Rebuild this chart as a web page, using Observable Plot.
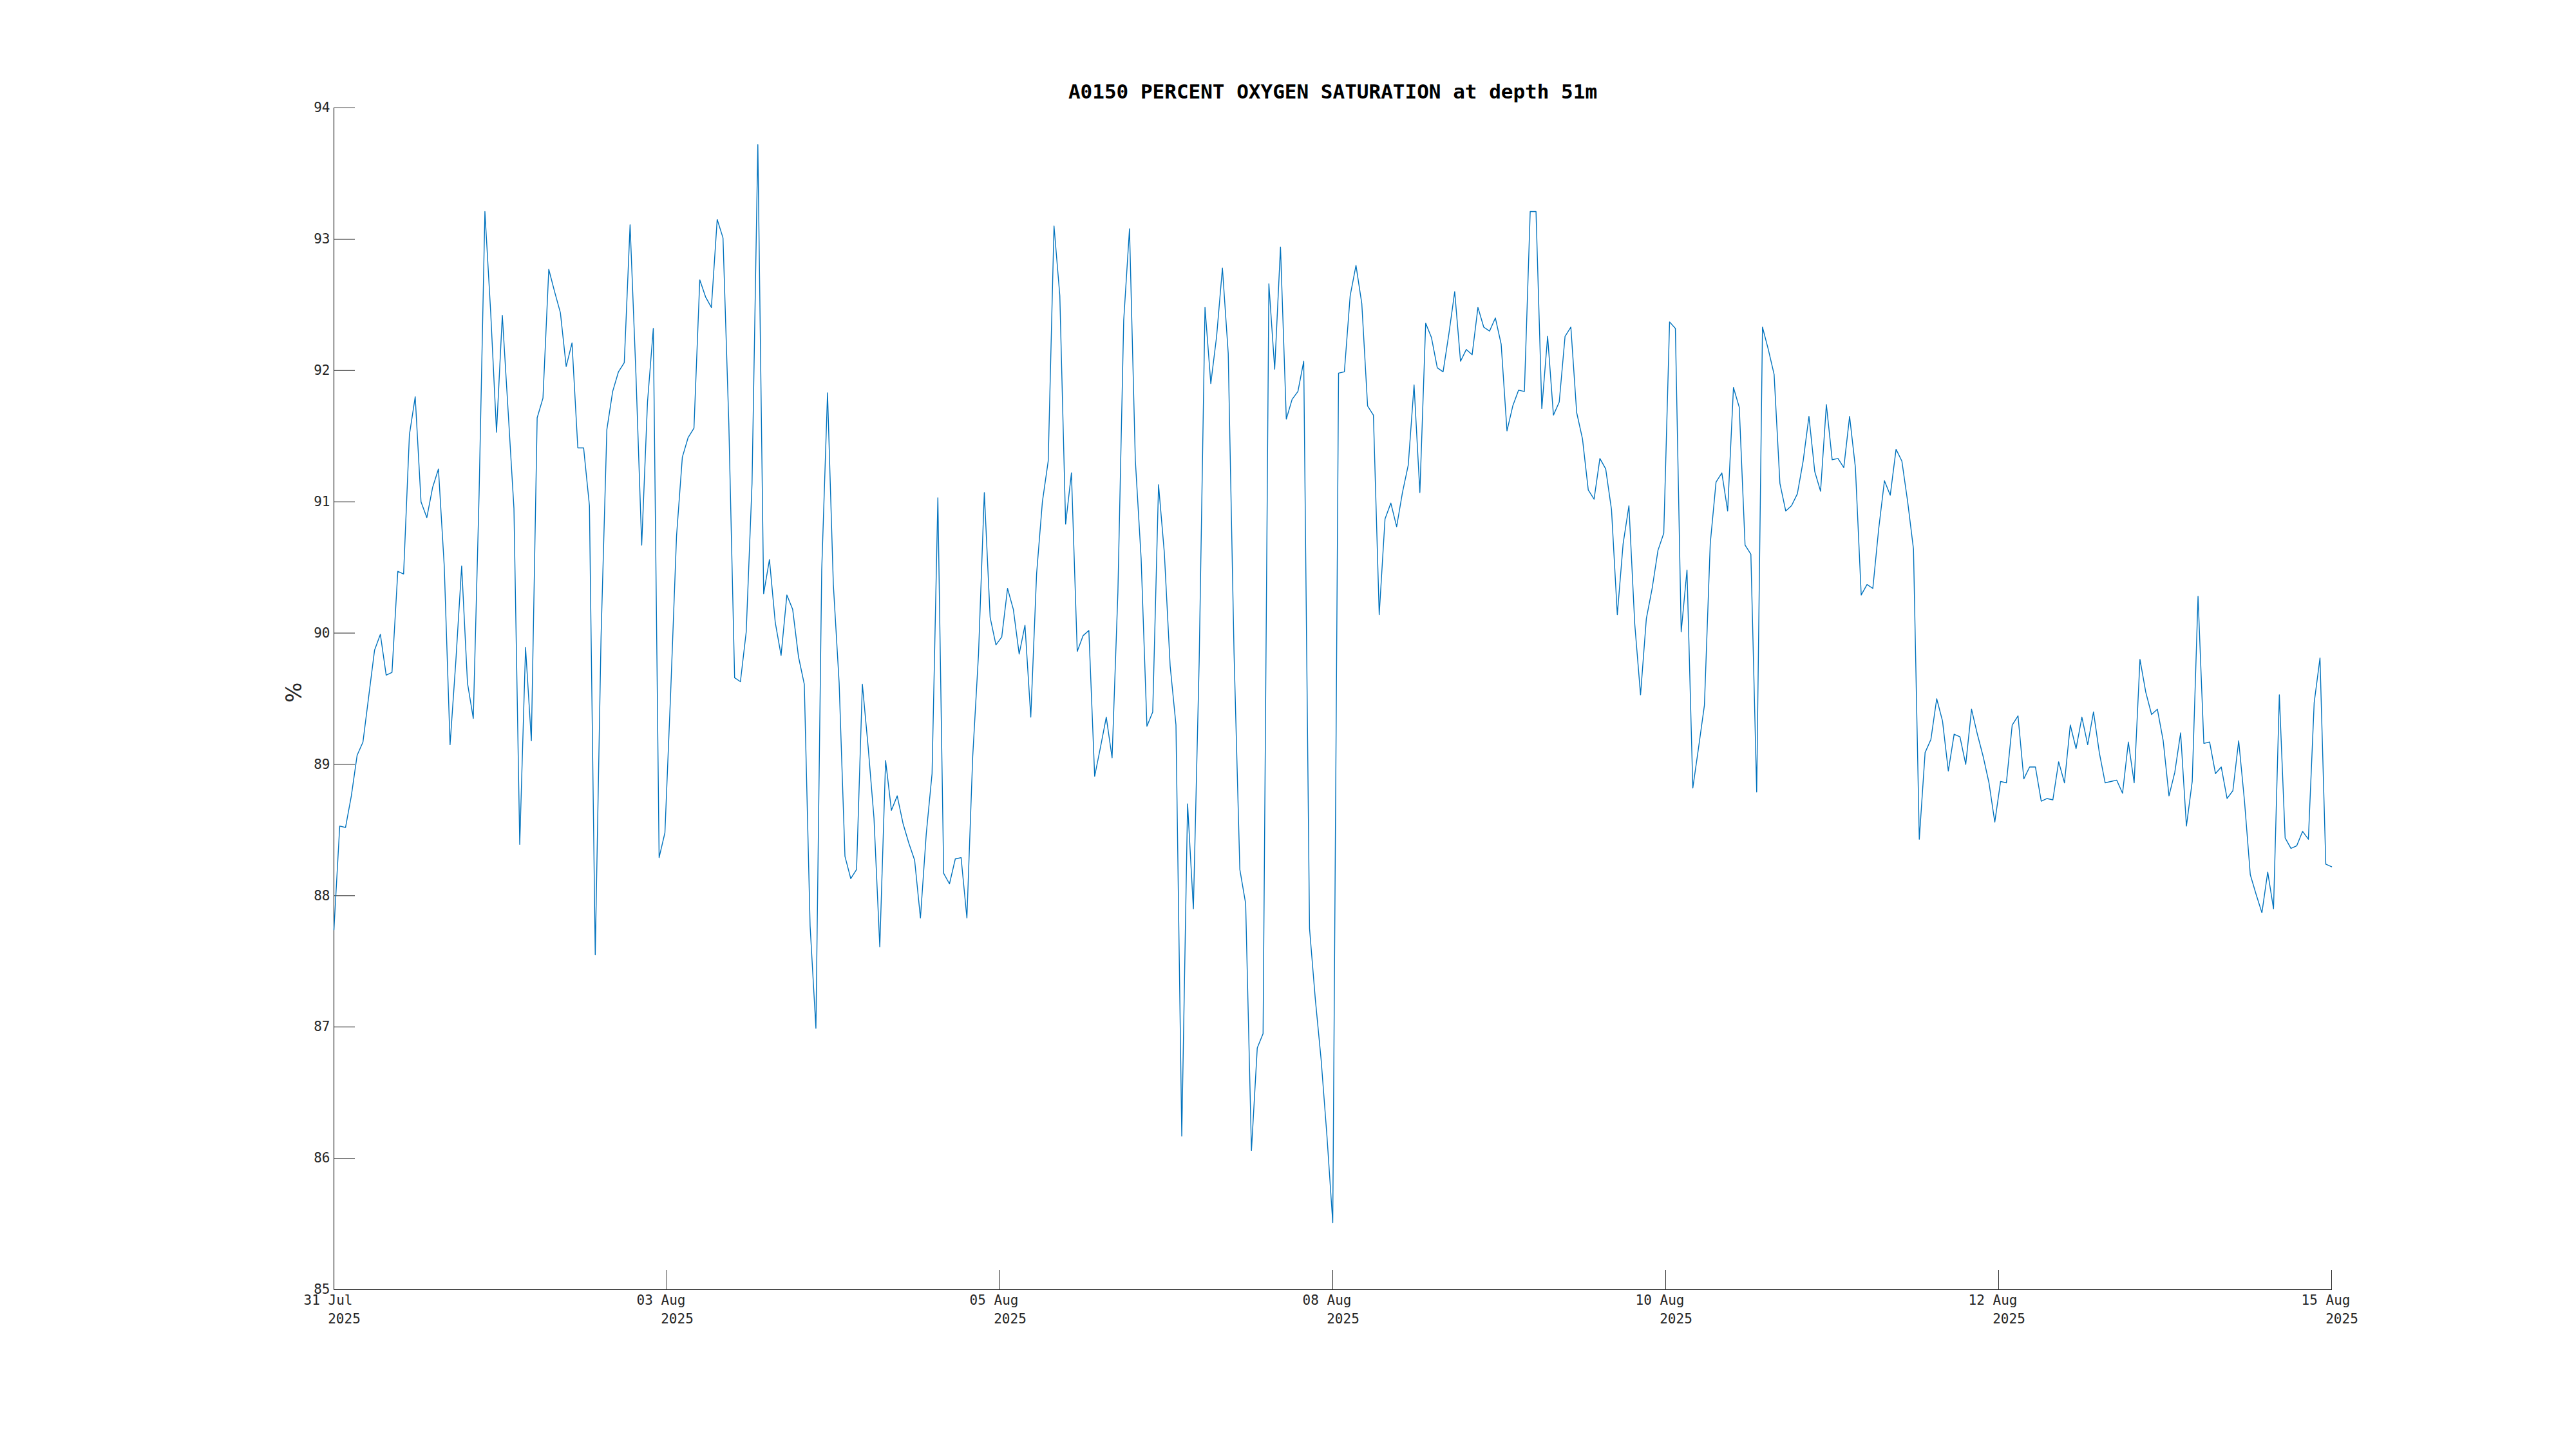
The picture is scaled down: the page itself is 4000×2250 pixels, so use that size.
<!DOCTYPE html>
<html><head><meta charset="utf-8">
<script src="https://cdn.jsdelivr.net/npm/d3@7"></script>
<script src="https://cdn.jsdelivr.net/npm/@observablehq/plot@0.6"></script>
<style>body{margin:0;background:#fff}</style>
</head><body><div id="chart"></div>
<script>
const title = "A0150 PERCENT OXYGEN SATURATION at depth 51m";
const yLabel = "%";
const yTicks = [85, 86, 87, 88, 89, 90, 91, 92, 93, 94];
const xTickDays = ["31 Jul", "03 Aug", "05 Aug", "08 Aug", "10 Aug", "12 Aug", "15 Aug"];
const xTickYears = ["2025", "2025", "2025", "2025", "2025", "2025", "2025"];
// hourly oxygen saturation (%)
const saturation = [
  87.74, 88.53, 88.52, 88.76, 89.07, 89.17, 89.52, 89.87, 89.99, 89.68,
  89.70, 90.47, 90.45, 91.51, 91.80, 91.00, 90.88, 91.11, 91.25, 90.51,
  89.15, 89.79, 90.51, 89.62, 89.35, 91.06, 93.21, 92.44, 91.53, 92.42,
  91.69, 90.95, 88.39, 89.89, 89.18, 91.64, 91.79, 92.77, 92.60, 92.44,
  92.03, 92.21, 91.41, 91.41, 90.97,
  87.55, 89.97, 91.55, 91.84, 91.99, 92.06, 93.11, 91.98, 90.67, 91.76,
  92.32, 88.29, 88.48, 89.56, 90.74, 91.34, 91.49, 91.56, 92.69, 92.56,
  92.48, 93.15, 93.01, 91.60, 89.66, 89.63, 90.01, 91.14, 93.72, 90.30,
  90.56, 90.08, 89.83, 90.29, 90.18, 89.82, 89.61, 87.77, 86.99, 90.48,
  91.83, 90.37, 89.62, 88.30, 88.13,
  88.20, 89.61, 89.13, 88.59, 87.61, 89.03, 88.65, 88.76, 88.55, 88.40,
  88.27, 87.83, 88.47, 88.93, 91.03, 88.17, 88.09, 88.28, 88.29, 87.83,
  89.06, 89.84, 91.07, 90.12, 89.91, 89.97, 90.34, 90.18, 89.84, 90.06,
  89.36, 90.45, 91.00, 91.31, 93.10, 92.57, 90.83, 91.22, 89.86, 89.98,
  90.02, 88.91, 89.13, 89.36, 89.05,
  90.31, 92.38, 93.08, 91.32, 90.57, 89.29, 89.40, 91.13, 90.61, 89.75,
  89.30, 86.17, 88.70, 87.90, 89.79, 92.48, 91.90, 92.26, 92.78, 92.13,
  89.85, 88.20, 87.94, 86.06, 86.84, 86.95, 92.66, 92.01, 92.94, 91.63,
  91.78, 91.84, 92.07, 87.75, 87.21, 86.75, 86.17, 85.51, 91.98, 91.99,
  92.57, 92.80, 92.51, 91.73, 91.66,
  90.14, 90.87, 90.99, 90.81, 91.07, 91.28, 91.89, 91.07, 92.36, 92.25,
  92.02, 91.99, 92.28, 92.60, 92.07, 92.16, 92.12, 92.48, 92.33, 92.30,
  92.40, 92.20, 91.54, 91.73, 91.85, 91.84, 93.21, 93.21, 91.71, 92.26,
  91.66, 91.76, 92.26, 92.33, 91.68, 91.48, 91.09, 91.02, 91.33, 91.25,
  90.94, 90.14, 90.68, 90.97, 90.07,
  89.53, 90.11, 90.34, 90.63, 90.76, 92.37, 92.32, 90.01, 90.48, 88.82,
  89.13, 89.45, 90.68, 91.15, 91.22, 90.93, 91.87, 91.72, 90.67, 90.60,
  88.79, 92.33, 92.16, 91.97, 91.14, 90.93, 90.97, 91.06, 91.31, 91.65,
  91.23, 91.08, 91.74, 91.32, 91.33, 91.26, 91.65, 91.26, 90.29, 90.37,
  90.34, 90.79, 91.16, 91.05, 91.40,
  91.31, 91.00, 90.64, 88.43, 89.09, 89.19, 89.50, 89.33, 88.95, 89.23,
  89.21, 89.00, 89.42, 89.23, 89.06, 88.86, 88.56, 88.87, 88.86, 89.30,
  89.37, 88.89, 88.98, 88.98, 88.72, 88.74, 88.73, 89.02, 88.86, 89.30,
  89.12, 89.36, 89.15, 89.40, 89.09, 88.86, 88.87, 88.88, 88.78, 89.17,
  88.86, 89.80, 89.55, 89.38, 89.42,
  89.18, 88.76, 88.94, 89.24, 88.53, 88.87, 90.28, 89.16, 89.17, 88.93,
  88.98, 88.74, 88.80, 89.18, 88.72, 88.16, 88.01, 87.87, 88.18, 87.90,
  89.53, 88.44, 88.36, 88.38, 88.49, 88.43, 89.47, 89.81, 88.24, 88.22
];

const data = saturation.map((v, i) => ({hour: i, value: v}));
const last = saturation.length - 1;
const xTicks = xTickDays.map((_, i) => last * i / (xTickDays.length - 1));
const mono = "DejaVu Sans Mono";
const ink = "#262626";

const chart = Plot.plot({
  width: 4000,
  height: 2250,
  marginLeft: 518,
  marginRight: 380,
  marginTop: 167,
  marginBottom: 248,
  x: {domain: [0, last], axis: null},
  y: {domain: [85, 94], axis: null},
  style: {background: "#fff", fontFamily: mono},
  marks: [
    Plot.ruleX([0], {stroke: ink, strokeWidth: 1.2}),
    Plot.ruleY([85], {stroke: ink, strokeWidth: 1.2}),
    Plot.axisY(yTicks, {anchor: "right", frameAnchor: "left", tickSize: 32, fill: "none", label: null, stroke: ink}),
    Plot.axisX(xTicks, {anchor: "top", frameAnchor: "bottom", tickSize: 31, fill: "none", label: null, stroke: ink}),
    Plot.text(yTicks, {frameAnchor: "left", y: d => d, text: d => String(d), textAnchor: "end", dx: -6, fontSize: 21, fill: ink, fontFamily: mono}),
    Plot.text(xTicks, {frameAnchor: "bottom", x: d => d, text: (d, i) => xTickDays[i], dy: 17, dx: -9, lineAnchor: "middle", fontSize: 21, fill: ink, fontFamily: mono}),
    Plot.text(xTicks, {frameAnchor: "bottom", x: d => d, text: (d, i) => xTickYears[i], dy: 46, dx: 16, lineAnchor: "middle", fontSize: 21, fill: ink, fontFamily: mono}),
    Plot.text([yLabel], {frameAnchor: "left", dx: -61, dy: 6, rotate: -90, lineAnchor: "middle", fontSize: 33, fill: ink, fontFamily: "DejaVu Sans"}),
    Plot.text([title], {frameAnchor: "top", dy: -24, lineAnchor: "middle", fontSize: 31, fontWeight: "bold", fill: "#000", fontFamily: mono}),
    Plot.line(data, {x: "hour", y: "value", stroke: "#0072BD", strokeWidth: 1.4})
  ]
});
document.getElementById("chart").appendChild(chart);
</script>
</body></html>
